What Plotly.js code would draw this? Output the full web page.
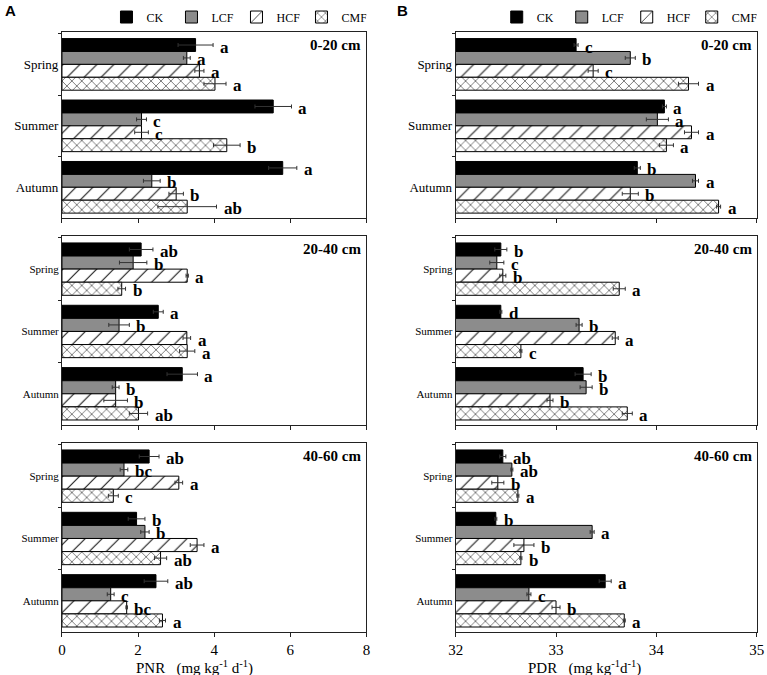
<!DOCTYPE html>
<html>
<head>
<meta charset="utf-8">
<script src="https://cdn.plot.ly/plotly-3.0.1.min.js"></script>
<style>html,body{margin:0;padding:0;background:#fff}#chart{width:767px;height:675px}</style>
</head>
<body>
<div id="chart"></div>
<script>
// ---------------- DATA ----------------
const seasons = ['Spring', 'Summer', 'Autumn'];
const treatments = ['CK', 'LCF', 'HCF', 'CMF'];
const depths = ['0-20 cm', '20-40 cm', '40-60 cm'];

// rows = treatments (CK, LCF, HCF, CMF), columns = seasons (Spring, Summer, Autumn)
// Panel A: PNR (mg kg-1 d-1)
const pnr_0_20 = [[3.51, 5.55, 5.80], [3.28, 2.09, 2.36], [3.61, 2.09, 3.00], [4.02, 4.33, 3.29]];
const pnr_0_20_err = [[0.46, 0.48, 0.37], [0.09, 0.13, 0.22], [0.12, 0.18, 0.19], [0.29, 0.35, 0.77]];
const pnr_0_20_sig = [['a', 'a', 'a'], ['a', 'c', 'b'], ['a', 'c', 'b'], ['a', 'b', 'ab']];

const pnr_20_40 = [[2.08, 2.53, 3.16], [1.87, 1.50, 1.41], [3.29, 3.28, 1.41], [1.57, 3.29, 2.01]];
const pnr_20_40_err = [[0.31, 0.13, 0.40], [0.36, 0.27, 0.09], [0.03, 0.10, 0.31], [0.10, 0.20, 0.24]];
const pnr_20_40_sig = [['ab', 'a', 'a'], ['b', 'b', 'b'], ['a', 'a', 'b'], ['b', 'a', 'ab']];

const pnr_40_60 = [[2.29, 1.96, 2.47], [1.63, 2.18, 1.28], [3.07, 3.55, 1.70], [1.35, 2.59, 2.64]];
const pnr_40_60_err = [[0.26, 0.22, 0.31], [0.10, 0.11, 0.09], [0.10, 0.18, 0.02], [0.13, 0.16, 0.08]];
const pnr_40_60_sig = [['ab', 'b', 'ab'], ['bc', 'b', 'c'], ['a', 'a', 'bc'], ['c', 'ab', 'a']];

// Panel B: PDR (mg kg-1 d-1)
const pdr_0_20 = [[33.20, 34.08, 33.81], [33.74, 34.01, 34.39], [33.37, 34.35, 33.74], [34.32, 34.10, 34.62]];
const pdr_0_20_err = [[0.02, 0.02, 0.03], [0.05, 0.11, 0.03], [0.05, 0.07, 0.08], [0.10, 0.07, 0.02]];
const pdr_0_20_sig = [['c', 'a', 'b'], ['b', 'a', 'a'], ['c', 'a', 'b'], ['a', 'a', 'a']];

const pdr_20_40 = [[32.45, 32.45, 33.27], [32.41, 33.23, 33.30], [32.47, 33.59, 32.94], [33.63, 32.65, 33.71]];
const pdr_20_40_err = [[0.06, 0.01, 0.08], [0.07, 0.03, 0.06], [0.03, 0.03, 0.03], [0.06, 0.01, 0.05]];
const pdr_20_40_sig = [['b', 'd', 'b'], ['c', 'b', 'b'], ['b', 'a', 'b'], ['a', 'c', 'a']];

const pdr_40_60 = [[32.47, 32.40, 33.49], [32.56, 33.36, 32.73], [32.42, 32.68, 33.00], [32.62, 32.65, 33.68]];
const pdr_40_60_err = [[0.03, 0.01, 0.06], [0.01, 0.02, 0.02], [0.06, 0.10, 0.04], [0.01, 0.01, 0.01]];
const pdr_40_60_sig = [['ab', 'b', 'a'], ['ab', 'a', 'c'], ['b', 'b', 'b'], ['a', 'b', 'a']];

const pnrTicks = [0, 2, 4, 6, 8];
const pdrTicks = [32, 33, 34, 35];

// ---------------- STYLE ----------------
const SERIF = 'Liberation Serif, Times New Roman, serif';
const treatStyle = [
  {color: '#000000', line: {color: '#000', width: 1}},
  {color: '#8c8c8c', line: {color: '#000', width: 1}},
  {color: '#ffffff', line: {color: '#000', width: 1},
   pattern: {shape: '/', fgcolor: '#222', bgcolor: '#fff', size: 12, solidity: 0.1}},
  {color: '#ffffff', line: {color: '#000', width: 1},
   pattern: {shape: 'x', fgcolor: '#222', bgcolor: '#fff', size: 7, solidity: 0.16}}
];

const panels = [
  {v: pnr_0_20, e: pnr_0_20_err, s: pnr_0_20_sig, n: '', d: 0, legend: 'legend'},
  {v: pdr_0_20, e: pdr_0_20_err, s: pdr_0_20_sig, n: '2', d: 0, legend: 'legend2'},
  {v: pnr_20_40, e: pnr_20_40_err, s: pnr_20_40_sig, n: '3', d: 1},
  {v: pdr_20_40, e: pdr_20_40_err, s: pdr_20_40_sig, n: '4', d: 1},
  {v: pnr_40_60, e: pnr_40_60_err, s: pnr_40_60_sig, n: '5', d: 2},
  {v: pdr_40_60, e: pdr_40_60_err, s: pdr_40_60_sig, n: '6', d: 2}
];

const bargap = 0.16;
const barW = (1 - bargap) / treatments.length;

const traces = [];
const annotations = [];
panels.forEach((p) => {
  treatments.forEach((t, ti) => {
    const tr = {
      type: 'bar', orientation: 'h', name: t,
      x: p.v[ti], y: seasons,
      xaxis: 'x' + p.n, yaxis: 'y' + p.n,
      marker: treatStyle[ti],
      error_x: {type: 'data', array: p.e[ti], visible: true, color: '#333', thickness: 1, width: 2},
      showlegend: !!p.legend,
      hoverinfo: 'x+y+name'
    };
    if (p.legend) tr.legend = p.legend;
    traces.push(tr);
    seasons.forEach((s, si) => {
      annotations.push({
        xref: 'x' + p.n, yref: 'y' + p.n,
        x: p.v[ti][si] + p.e[ti][si],
        y: si - (1 - bargap) / 2 + barW * (ti + 0.5),
        text: p.s[ti][si], showarrow: false,
        xanchor: 'left', yanchor: 'middle', xshift: 5, yshift: -2,
        font: {family: SERIF, size: 17, color: '#000', weight: 'bold'}
      });
    });
  });
  annotations.push({
    xref: 'x' + p.n + ' domain', yref: 'y' + p.n + ' domain', x: 1, y: 1,
    xanchor: 'right', yanchor: 'top', xshift: -3, yshift: -3,
    text: '<b>' + depths[p.d] + '</b>', showarrow: false,
    font: {family: SERIF, size: 15, color: '#000'}
  });
});

annotations.push({xref: 'paper', yref: 'paper', x: 0.004, y: 1.0, xanchor: 'left', yanchor: 'top',
  text: '<b>A</b>', showarrow: false, font: {family: 'Liberation Sans, Arial, sans-serif', size: 15, color: '#000'}});
annotations.push({xref: 'paper', yref: 'paper', x: 0.515, y: 1.0, xanchor: 'left', yanchor: 'top',
  text: '<b>B</b>', showarrow: false, font: {family: 'Liberation Sans, Arial, sans-serif', size: 15, color: '#000'}});

// axis titles (slightly left of axis centre, as in the reference)
annotations.push({xref: 'paper', yref: 'paper', x: 194 / 767, y: 1 - 667 / 675, xanchor: 'center', yanchor: 'middle',
  text: 'PNR\u00a0\u00a0\u00a0(mg kg<sup>-1</sup> d<sup>-1</sup>)', showarrow: false,
  font: {family: SERIF, size: 15, color: '#000'}});
annotations.push({xref: 'paper', yref: 'paper', x: 584 / 767, y: 1 - 667 / 675, xanchor: 'center', yanchor: 'middle',
  text: 'PDR\u00a0\u00a0\u00a0(mg kg<sup>-1</sup>d<sup>-1</sup>)', showarrow: false,
  font: {family: SERIF, size: 15, color: '#000'}});

const xDomL = [0.0808, 0.4778], xDomR = [0.5941, 0.9866];
const yDoms = [[0.677, 0.9533], [0.3704, 0.6504], [0.0637, 0.3437]];
const ytfs = [13, 11, 11];

const legendBase = {orientation: 'h', xanchor: 'right', y: yDoms[0][1], yanchor: 'bottom',
  font: {family: SERIF, size: 12}, bgcolor: 'rgba(0,0,0,0)', tracegroupgap: 0, itemwidth: 30,
  entrywidth: 20, entrywidthmode: 'pixels'};

const layout = {
  width: 767, height: 675,
  margin: {l: 0, r: 0, t: 0, b: 0},
  paper_bgcolor: '#fff', plot_bgcolor: '#fff',
  barmode: 'group', bargap: bargap, bargroupgap: 0,
  font: {family: SERIF, color: '#000'},
  annotations: annotations,
  legend: Object.assign({}, legendBase, {x: xDomL[1]}),
  legend2: Object.assign({}, legendBase, {x: xDomR[1]})
};

panels.forEach((p, i) => {
  const left = (i % 2 === 0);
  const row = Math.floor(i / 2);
  const bottom = row === 2;
  layout['xaxis' + p.n] = {
    domain: left ? xDomL : xDomR,
    anchor: 'y' + p.n,
    range: left ? [0, 8] : [32, 35],
    tickvals: left ? pnrTicks : pdrTicks,
    showgrid: false, zeroline: false,
    showline: true, mirror: true, linecolor: '#222', linewidth: 1,
    ticks: 'outside', ticklen: 4, tickcolor: '#222',
    showticklabels: bottom,
    tickfont: {family: SERIF, size: 15, color: '#000'}
  };
  layout['yaxis' + p.n] = {
    domain: yDoms[row],
    anchor: 'x' + p.n,
    type: 'category',
    categoryorder: 'array', categoryarray: seasons,
    autorange: 'reversed',
    showgrid: false, zeroline: false,
    showline: true, mirror: true, linecolor: '#222', linewidth: 1,
    ticks: 'outside', ticklen: 3, tickcolor: '#222', tickson: 'boundaries',
    tickfont: {family: SERIF, size: ytfs[row], color: '#000'}
  };
});

Plotly.newPlot('chart', traces, layout, {displayModeBar: false, responsive: false});
</script>
</body>
</html>
